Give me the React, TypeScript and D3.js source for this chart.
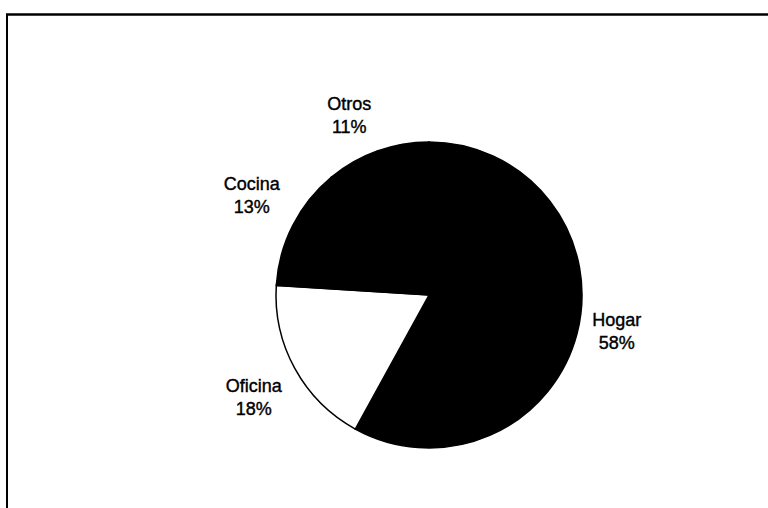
import React from "react";
import * as d3 from "d3";

const categories = ["Hogar", "Oficina", "Cocina", "Otros"];
const values = [58, 18, 13, 11];
const fills = ["#000000", "#ffffff", "#000000", "#000000"];

// layout nudges for labels (pixels), in the same order as categories
const labelNudge: [number, number][] = [
  [-6, -14],
  [0, 6],
  [1, -9],
  [-12, 8],
];

const W = 768;
const H = 508;
const cx = 429;
const cy = 295;
const R = 153;
const RL = 200;

export default function App() {
  const data = categories.map((c, i) => ({ c, v: values[i], f: fills[i], i }));
  const pie = d3.pie<any>().value((d) => d.v).sort(null);
  const arcs = pie(data);
  const arc = d3.arc<any>().innerRadius(0).outerRadius(R);
  const labelArc = d3.arc<any>().innerRadius(RL).outerRadius(RL);

  return (
    <svg
      width={W}
      height={H}
      style={{ position: "fixed", left: 0, top: 0, display: "block", background: "#fff" }}
    >
      <rect x={0} y={0} width={W} height={H} fill="#fff" />
      <line x1={6} y1={14.5} x2={W} y2={14.5} stroke="#000" strokeWidth={2.5} />
      <line x1={7} y1={14} x2={7} y2={H} stroke="#000" strokeWidth={2} />
      <g transform={`translate(${cx},${cy})`}>
        {arcs.map((a, i) => (
          <path key={i} d={arc(a) as string} fill={a.data.f} stroke="#000" strokeWidth={1.5} />
        ))}
        {arcs.map((a, i) => {
          const [x0, y0] = labelArc.centroid(a);
          const x = x0 + labelNudge[a.data.i][0];
          const y = y0 + labelNudge[a.data.i][1];
          return (
            <text
              key={"t" + i}
              x={x}
              y={y}
              textAnchor="middle"
              fontFamily="Liberation Sans, Arial, sans-serif"
              fontSize={18}
              fill="#000"
              stroke="#000"
              strokeWidth={0.4}
            >
              <tspan x={x} dy={-5}>{a.data.c}</tspan>
              <tspan x={x} dy={23}>{a.data.v + "%"}</tspan>
            </text>
          );
        })}
      </g>
    </svg>
  );
}
